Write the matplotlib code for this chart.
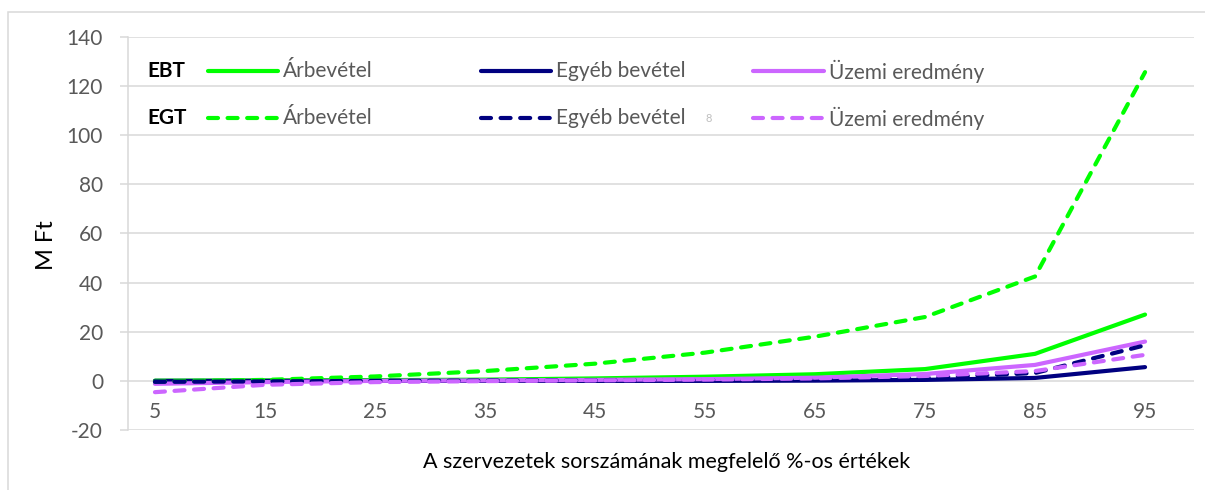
import matplotlib.pyplot as plt
import numpy as np
from matplotlib.lines import Line2D
from matplotlib.patches import Rectangle

# ================================
# %% Data
# ++++++++++++++++++++++++++++++++

categories = ["5", "15", "25", "35", "45", "55", "65", "75", "85", "95"]

ebt_arbevetel = [0.1, 0.2, 0.3, 0.5, 1.0, 1.7, 2.7, 4.8, 11.0, 27.0]
ebt_egyeb = [0.0, 0.0, 0.0, 0.0, 0.0, 0.0, 0.1, 0.4, 1.2, 5.6]
ebt_uzemi = [-1.2, -0.5, 0.0, 0.2, 0.4, 0.7, 1.3, 2.8, 6.5, 16.0]
egt_arbevetel = [-0.3, 0.4, 1.8, 4.0, 7.0, 11.5, 18.0, 26.0, 42.5, 125.7]
egt_egyeb = [-0.4, -0.2, 0.0, 0.1, 0.2, 0.3, 0.5, 1.2, 3.2, 14.5]
egt_uzemi = [-4.6, -1.6, -0.5, -0.1, 0.2, 0.5, 1.0, 2.0, 4.0, 10.6]

series_names = ["Árbevétel", "Egyéb bevétel", "Üzemi eredmény"]
colors = ["#00FF00", "#000080", "#CC66FF"]

# ================================
# %% Figure
# ++++++++++++++++++++++++++++++++

W, H = 1205, 490
plt.rcParams["font.family"] = ["Lato", "DejaVu Sans"]
plt.rcParams["axes.unicode_minus"] = False
fig = plt.figure(figsize=(W / 100, H / 100), dpi=100)
ax = fig.add_axes([128 / W, 1 - 430 / H, (1194 - 128) / W, (430 - 37) / H])

grid_c = "#D9D9D9"
text_c = "#595959"
lw = 3.0
dash = (0, (2.4, 2.3))
fs = 15

x = np.arange(len(categories))
ebt = [ebt_arbevetel, ebt_egyeb, ebt_uzemi]
egt = [egt_arbevetel, egt_egyeb, egt_uzemi]

for vals, c in zip(ebt, colors):
    ax.plot(x, vals, color=c, lw=lw, solid_capstyle="round", solid_joinstyle="round", zorder=3)
for vals, c in zip(egt, colors):
    ax.plot(x, vals, color=c, lw=lw, ls=dash, dash_capstyle="round",
            dash_joinstyle="round", zorder=3)

ax.set_xlim(-0.245, 9.445)
ax.set_ylim(-20, 140)
ax.set_yticks(np.arange(-20, 141, 20))
ax.set_xticks(x)
ax.set_xticklabels(categories)

ax.grid(axis="y", color=grid_c, lw=1.1)
ax.set_axisbelow(True)
for s in ["top", "right"]:
    ax.spines[s].set_visible(False)
ax.spines["bottom"].set_position(("data", 0))
ax.spines["bottom"].set_visible(False)
ax.spines["left"].set_color(grid_c)
ax.spines["left"].set_linewidth(1.1)
ax.tick_params(axis="y", colors=grid_c, length=6, width=1.1, labelcolor=text_c,
               labelsize=fs, pad=12)
ax.tick_params(axis="x", length=0, labelcolor=text_c, labelsize=fs, pad=15)

fig.text(46 / W, 1 - 245 / H, "M Ft", rotation=90, fontsize=17, color="black",
         ha="center", va="center")
fig.text(667 / W, 1 - 462 / H, "A szervezetek sorszámának megfelelő %-os értékek",
         ha="center", va="center", fontsize=15.5, color="black")

# ================================
# %% Legend (drawn by hand)
# ++++++++++++++++++++++++++++++++

rows = [("EBT", 71, "-"), ("EGT", 118, dash)]
handle_x = [(208, 278), (481, 551), (753, 824)]
for label, yp, style in rows:
    yf = 1 - yp / H
    fig.text(147 / W, yf, label, fontsize=fs, fontweight="bold", color="black",
             va="center", ha="left")
    for (x0, x1), name, c in zip(handle_x, series_names, colors):
        line = Line2D([x0 / W, x1 / W], [yf, yf], color=c, lw=lw, ls=style,
                      solid_capstyle="round", dash_capstyle="round",
                      transform=fig.transFigure)
        fig.add_artist(line)
        fig.text((x1 + 5) / W, yf, name, fontsize=fs, color=text_c,
                 va="center", ha="left")

# small clipped glyph next to the second row
fig.text(706 / W, 1 - 118 / H, "8", fontsize=8, color="#BFBFBF", va="center", ha="left")

# outer border
fig.add_artist(Rectangle((8 / W, -0.2), 1.2, 1 - 12 / H + 0.2, fill=False,
                         edgecolor=grid_c, lw=1.1, transform=fig.transFigure))

fig.savefig("out.png", dpi=100)
